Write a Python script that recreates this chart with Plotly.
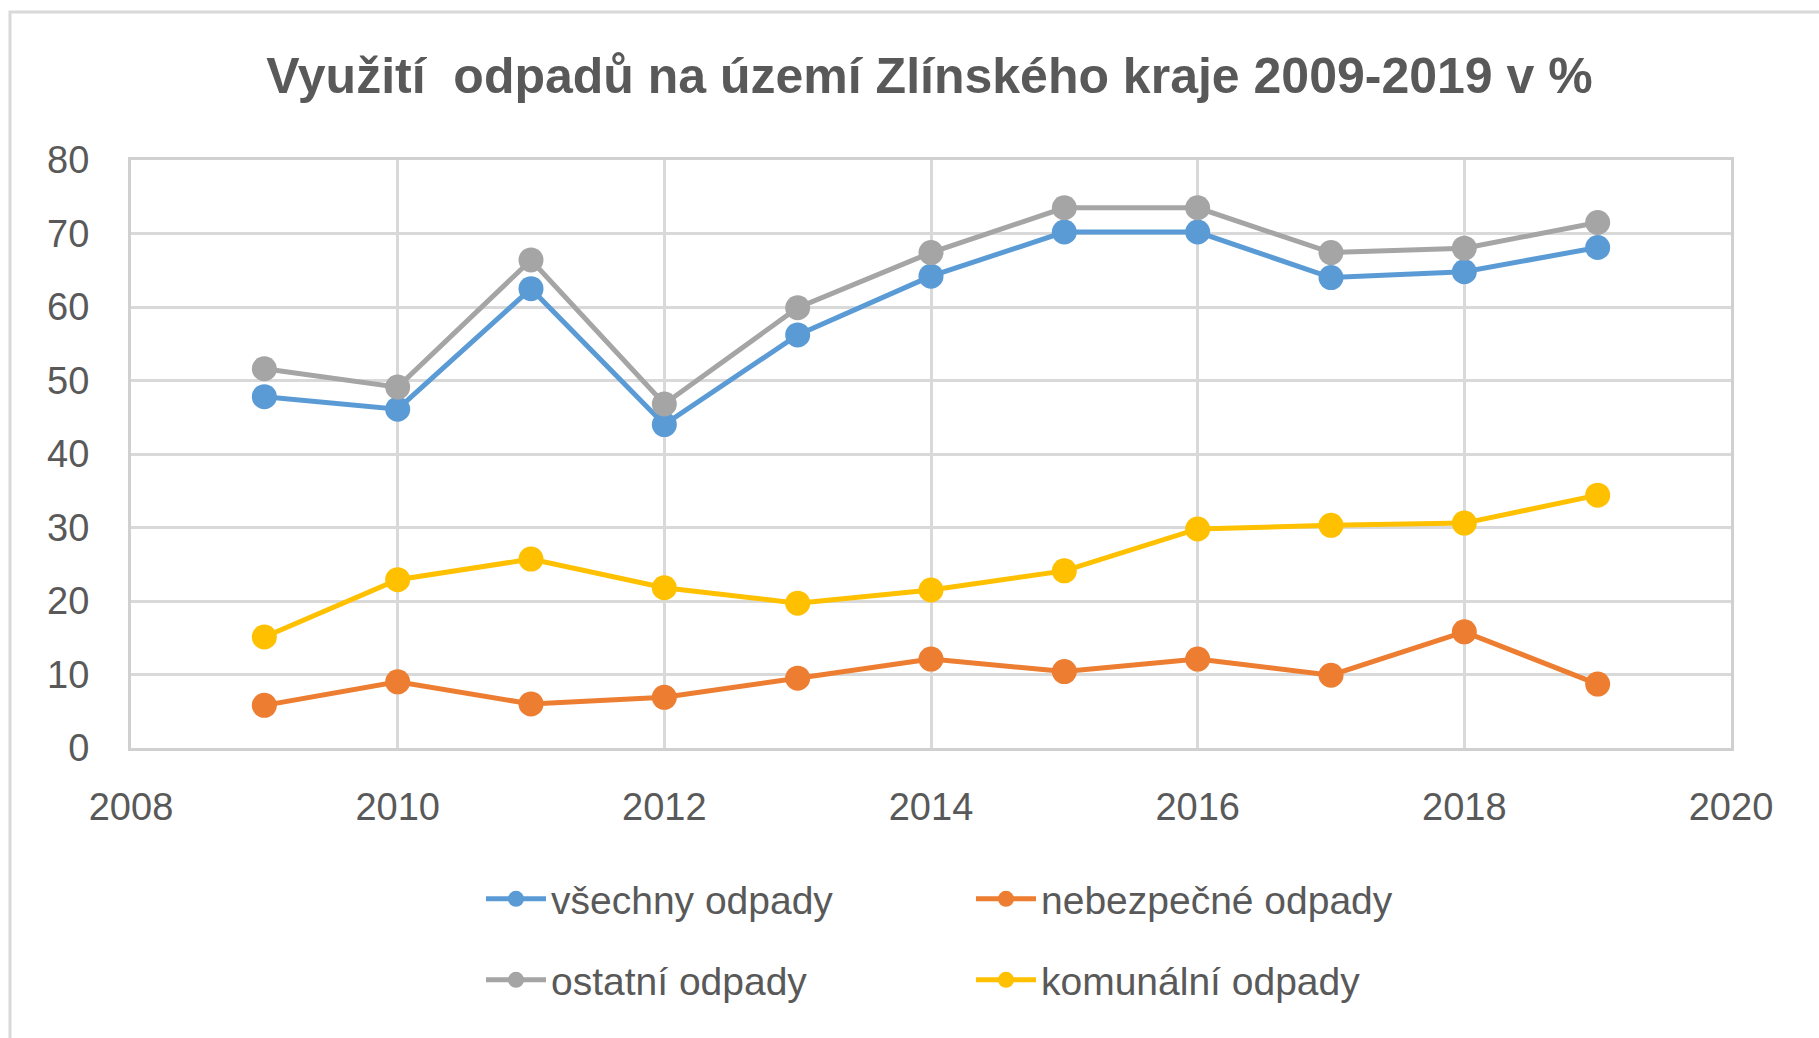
import plotly.graph_objects as go

years = [2009, 2010, 2011, 2012, 2013, 2014, 2015, 2016, 2017, 2018, 2019]
vsechny = [47.8, 46.1, 62.5, 44.0, 56.2, 64.2, 70.2, 70.2, 64.0, 64.8, 68.1]
nebezpecne = [5.8, 9.0, 6.0, 6.9, 9.5, 12.1, 10.4, 12.1, 9.9, 15.8, 8.7]
ostatni = [51.6, 49.1, 66.4, 46.8, 59.9, 67.4, 73.5, 73.5, 67.4, 68.0, 71.5]
komunalni = [15.1, 22.9, 25.7, 21.8, 19.7, 21.5, 24.1, 29.8, 30.3, 30.6, 34.4]

names = ["všechny odpady", "nebezpečné odpady", "ostatní odpady", "komunální odpady"]
colors = ["#5B9BD5", "#ED7D31", "#A5A5A5", "#FFC000"]
series = [vsechny, nebezpecne, ostatni, komunalni]
legends = ["legend", "legend", "legend2", "legend2"]

fig = go.Figure()
for name, col, vals, lg in zip(names, colors, series, legends):
    fig.add_trace(go.Scatter(
        x=years, y=vals, name=name, mode="lines+markers",
        line=dict(color=col, width=5),
        marker=dict(color=col, size=25),
        legend=lg,
    ))

W, H = 1819, 1038
L, R, T, B = 131, 88, 160, 290
pw, ph = W - L - R, H - T - B

def px2paper(x, y):
    return (x - L) / pw, 1 - (y - T) / ph

font = "Liberation Sans, Arial, sans-serif"
txt = "#595959"

x0, y0 = px2paper(10, 12)
x1, y1 = px2paper(1830, 1050)

leg_common = dict(orientation="h", xanchor="left", yanchor="middle",
                  font=dict(size=39, color=txt), entrywidth=415, entrywidthmode="pixels",
                  itemwidth=60, bgcolor="rgba(0,0,0,0)")

fig.update_layout(
    width=W, height=H,
    margin=dict(l=L, r=R, t=T, b=B),
    paper_bgcolor="white", plot_bgcolor="white",
    font=dict(family=font, color=txt, size=38),
    title=dict(text="<b>Využití  odpadů na území Zlínského kraje 2009-2019 v %</b>",
               x=0.511, xanchor="center", y=1 - 75 / H, yanchor="middle",
               font=dict(size=50, color=txt, family=font)),
    xaxis=dict(range=[2008, 2020], dtick=2, tick0=2008,
               showgrid=True, gridcolor="#D9D9D9", gridwidth=3,
               showline=True, linecolor="#D0D0D0", linewidth=3, mirror=True,
               zeroline=False, ticks="", ticklabelstandoff=23,
               tickfont=dict(size=38, color=txt)),
    yaxis=dict(range=[0, 80], dtick=10,
               showgrid=True, gridcolor="#D9D9D9", gridwidth=3,
               showline=True, linecolor="#D0D0D0", linewidth=3, mirror=True,
               zeroline=False, ticks="", ticklabelstandoff=31,
               tickfont=dict(size=38, color=txt)),
    legend=dict(x=px2paper(481, 0)[0], y=px2paper(0, 899)[1], **leg_common),
    legend2=dict(x=px2paper(481, 0)[0], y=px2paper(0, 980)[1], **leg_common),
    showlegend=True,
    shapes=[dict(type="rect", xref="paper", yref="paper", x0=x0, y0=y1, x1=x1, y1=y0,
                 line=dict(color="#D9D9D9", width=3), layer="below")],
)

fig.write_html("out.html")
